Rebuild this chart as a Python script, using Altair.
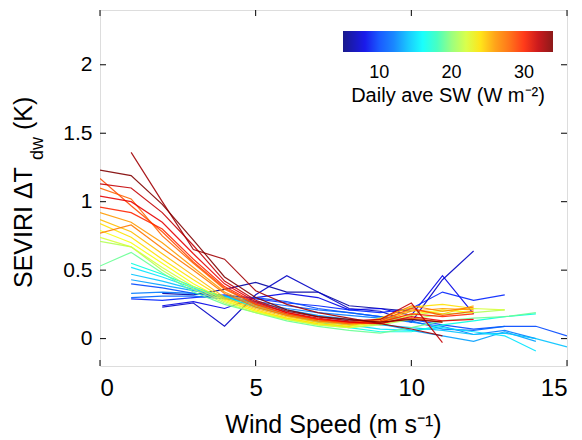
import altair as alt
import pandas as pd

FONT = "Liberation Sans, Arial, sans-serif"

# ---- data: each series = (daily average SW, first wind-speed bin, values) ----
b06 = [0.33, 0.32, 0.36, 0.41, 0.34, 0.34, 0.24, 0.22, 0.20]
b07 = [0.23, 0.26, 0.09, 0.32, 0.46, 0.34, 0.22, 0.20, 0.12, 0.43, 0.64]
b08 = [0.24, 0.27, 0.22, 0.30, 0.33, 0.30, 0.21, 0.22, 0.17, 0.46, 0.18]
b09 = [0.29, 0.28, 0.30, 0.32, 0.29, 0.26, 0.24, 0.21, 0.19, 0.22, 0.34, 0.28, 0.32]
b10 = [0.40, 0.37, 0.33, 0.31, 0.30, 0.27, 0.22, 0.19, 0.16, 0.14, 0.10, 0.07, 0.09, 0.09, 0.02]
b11 = [0.30, 0.31, 0.31, 0.29, 0.27, 0.24, 0.21, 0.19, 0.16, 0.13, 0.07, 0.06, 0.09]
b12 = [0.33, 0.34, 0.33, 0.30, 0.26, 0.22, 0.19, 0.17, 0.15, 0.12, 0.09, 0.03, 0.06, 0.00]
c13 = [0.43, 0.39, 0.35, 0.31, 0.27, 0.21, 0.17, 0.14, 0.11, 0.06, 0.02, -0.02, 0.05, -0.02]
c14 = [0.47, 0.42, 0.36, 0.31, 0.25, 0.20, 0.16, 0.13, 0.10, 0.08, 0.06, 0.03, 0.04, 0.00, -0.06]
c15 = [0.52, 0.45, 0.37, 0.30, 0.24, 0.18, 0.13, 0.10, 0.07, 0.06, 0.08, 0.05, 0.02, -0.09]
g17 = [0.55, 0.47, 0.38, 0.30, 0.23, 0.17, 0.12, 0.08, 0.05, 0.05, 0.10, 0.13, 0.16, 0.18]
g19 = [0.53, 0.63, 0.48, 0.34, 0.25, 0.19, 0.13, 0.09, 0.06, 0.04, 0.08, 0.13, 0.15, 0.16, 0.19]
y21 = [0.71, 0.67, 0.50, 0.36, 0.26, 0.19, 0.14, 0.10, 0.08, 0.10, 0.14, 0.18, 0.19, 0.21]
y22 = [0.74, 0.67, 0.52, 0.38, 0.27, 0.20, 0.14, 0.10, 0.08, 0.11, 0.17, 0.20, 0.22, 0.21]
y23 = [0.79, 0.70, 0.55, 0.40, 0.28, 0.20, 0.15, 0.11, 0.09, 0.12, 0.18, 0.21, 0.19]
y24 = [0.84, 0.74, 0.58, 0.43, 0.29, 0.21, 0.15, 0.11, 0.09, 0.15, 0.23, 0.25, 0.22]
y25 = [0.87, 0.78, 0.62, 0.46, 0.30, 0.22, 0.16, 0.12, 0.10, 0.13, 0.21, 0.18, 0.24]
r26 = [0.92, 0.85, 0.70, 0.52, 0.34, 0.24, 0.17, 0.13, 0.11, 0.12, 0.20, 0.22, 0.21]
r27 = [0.77, 0.83, 0.66, 0.50, 0.33, 0.23, 0.17, 0.13, 0.11, 0.14, 0.24, 0.20, 0.23]
r28 = [1.10, 1.02, 0.75, 0.55, 0.36, 0.25, 0.18, 0.14, 0.11, 0.11, 0.15, 0.12]
r29 = [1.17, 0.97, 0.78, 0.56, 0.37, 0.25, 0.18, 0.14, 0.12, 0.13, 0.22, 0.17, 0.20]
r30 = [0.96, 0.92, 0.80, 0.58, 0.38, 0.26, 0.19, 0.14, 0.12, 0.12, 0.18, 0.16, 0.18]
r31 = [1.04, 1.00, 0.85, 0.62, 0.40, 0.27, 0.19, 0.15, 0.12, 0.11, 0.16, 0.13, 0.14]
r32 = [1.13, 1.10, 0.92, 0.68, 0.42, 0.28, 0.20, 0.16, 0.13, 0.14, 0.26, -0.03]
r33 = [1.36, 1.00, 0.65, 0.58, 0.35, 0.25, 0.19, 0.15, 0.11, 0.07, 0.02]
r34 = [1.23, 1.19, 0.98, 0.72, 0.45, 0.30, 0.21, 0.16, 0.14, 0.12, 0.14, 0.12]

series_values = [b06, b07, b08, b09, b10, b11, b12, c13, c14, c15, g17, g19,
                 y21, y22, y23, y24, y25, r26, r27, r28, r29, r30, r31, r32, r33, r34]
series_sw = [6, 7, 8, 9, 10, 11, 12, 13, 14, 15, 17, 19,
             21, 22, 23, 24, 25, 26, 27, 28, 29, 30, 31, 32, 33, 34]
series_start = [2, 2, 2, 1, 1, 1, 1, 1, 1, 1, 1, 0,
                0, 0, 0, 0, 0, 0, 0, 0, 0, 0, 0, 0, 1, 0]

x_ticks = [0, 5, 10, 15]
y_ticks = [0, 0.5, 1, 1.5, 2]
legend_ticks = [10, 20, 30]

rows = []
for i, (sw, x0, vals) in enumerate(zip(series_sw, series_start, series_values)):
    for k, v in enumerate(vals):
        rows.append({"id": i, "sw": sw, "wind": x0 + k, "dT": v})
df = pd.DataFrame(rows)

# jet colormap stops
jet_colors = ["#00007F", "#0000FF", "#007FFF", "#00FFFF", "#7FFF7F",
              "#FFFF00", "#FF7F00", "#FF0000", "#7F0000"]
jet_domain = [5 + 29 * i / 8 for i in range(9)]

W, H = 467, 356
xscale = alt.Scale(domain=[0, 15], nice=False, zero=False)
yscale = alt.Scale(domain=[-0.2, 2.4], nice=False, zero=False)

xaxis = alt.Axis(values=x_ticks, title=None, labelFontSize=24, labelFont=FONT,
                 labelColor="black", domain=False, ticks=False, grid=False,
                 labelPadding=10)
yaxis = alt.Axis(values=y_ticks, title=None, format=".1~f", labelFontSize=21,
                 labelFont=FONT, labelColor="black", domain=False, ticks=False,
                 grid=False, labelPadding=8)

lines = alt.Chart(df).mark_line(strokeWidth=1.2, opacity=0.9, clip=True).encode(
    x=alt.X("wind:Q", scale=xscale, axis=xaxis),
    y=alt.Y("dT:Q", scale=yscale, axis=yaxis),
    color=alt.Color("sw:Q", scale=alt.Scale(domain=jet_domain, range=jet_colors),
                    legend=alt.Legend(orient="none", legendX=243, legendY=21,
                                      direction="horizontal", gradientLength=210,
                                      gradientThickness=21, gradientStrokeWidth=0,
                                      values=legend_ticks,
                                      title="Daily ave SW (W m⁻²)", titleOrient="bottom",
                                      titleAnchor="middle", titleFontSize=20,
                                      titleFontWeight="normal", titleFont=FONT,
                                      titleColor="black", titlePadding=4, titleLimit=400,
                                      labelFontSize=18, labelFont=FONT, labelColor="black",
                                      labelOffset=12, padding=0, labelOverlap=False)),
    detail="id:N",
)

ydf = pd.DataFrame({"v": y_ticks})
xdf = pd.DataFrame({"v": x_ticks})

yt_left = alt.Chart(ydf).mark_rule(color="black", strokeWidth=1).encode(
    y=alt.Y("v:Q", scale=yscale, axis=yaxis), x=alt.value(0), x2=alt.value(6))
yt_right = alt.Chart(ydf).mark_rule(color="black", strokeWidth=1).encode(
    y=alt.Y("v:Q", scale=yscale, axis=yaxis), x=alt.value(W), x2=alt.value(W - 6))
xt_bottom = alt.Chart(xdf).mark_rule(color="black", strokeWidth=1).encode(
    x=alt.X("v:Q", scale=xscale, axis=xaxis), y=alt.value(H), y2=alt.value(H - 6))
xt_top = alt.Chart(xdf).mark_rule(color="black", strokeWidth=1).encode(
    x=alt.X("v:Q", scale=xscale, axis=xaxis), y=alt.value(0), y2=alt.value(6))

def label(txt, x, y, size, angle=0, align="left"):
    return alt.Chart(pd.DataFrame({"t": [txt]})).mark_text(
        font=FONT, fontSize=size, color="black", angle=angle, align=align,
        baseline="alphabetic").encode(text="t:N", x=alt.value(x), y=alt.value(y))

ytitle1 = label("SEVIRI ΔT", -68, 278, 25, angle=270)
ytitle2 = label("dw", -57, 150, 18, angle=270)
ytitle3 = label("(K)", -68, 120, 25, angle=270)
xtitle = label("Wind Speed (m s⁻¹)", W / 2, 423, 25, align="center")

chart = alt.layer(lines, yt_left, yt_right, xt_bottom, xt_top,
                  ytitle1, ytitle2, ytitle3, xtitle).properties(
    width=W, height=H,
    padding={"left": 92, "top": 2, "right": 5, "bottom": 72},
    autosize=alt.AutoSizeParams(type="none"),
).configure_view(stroke="black", strokeWidth=1).configure(background="white")

chart.save("out.html", embed_options={"renderer": "svg", "actions": False})
